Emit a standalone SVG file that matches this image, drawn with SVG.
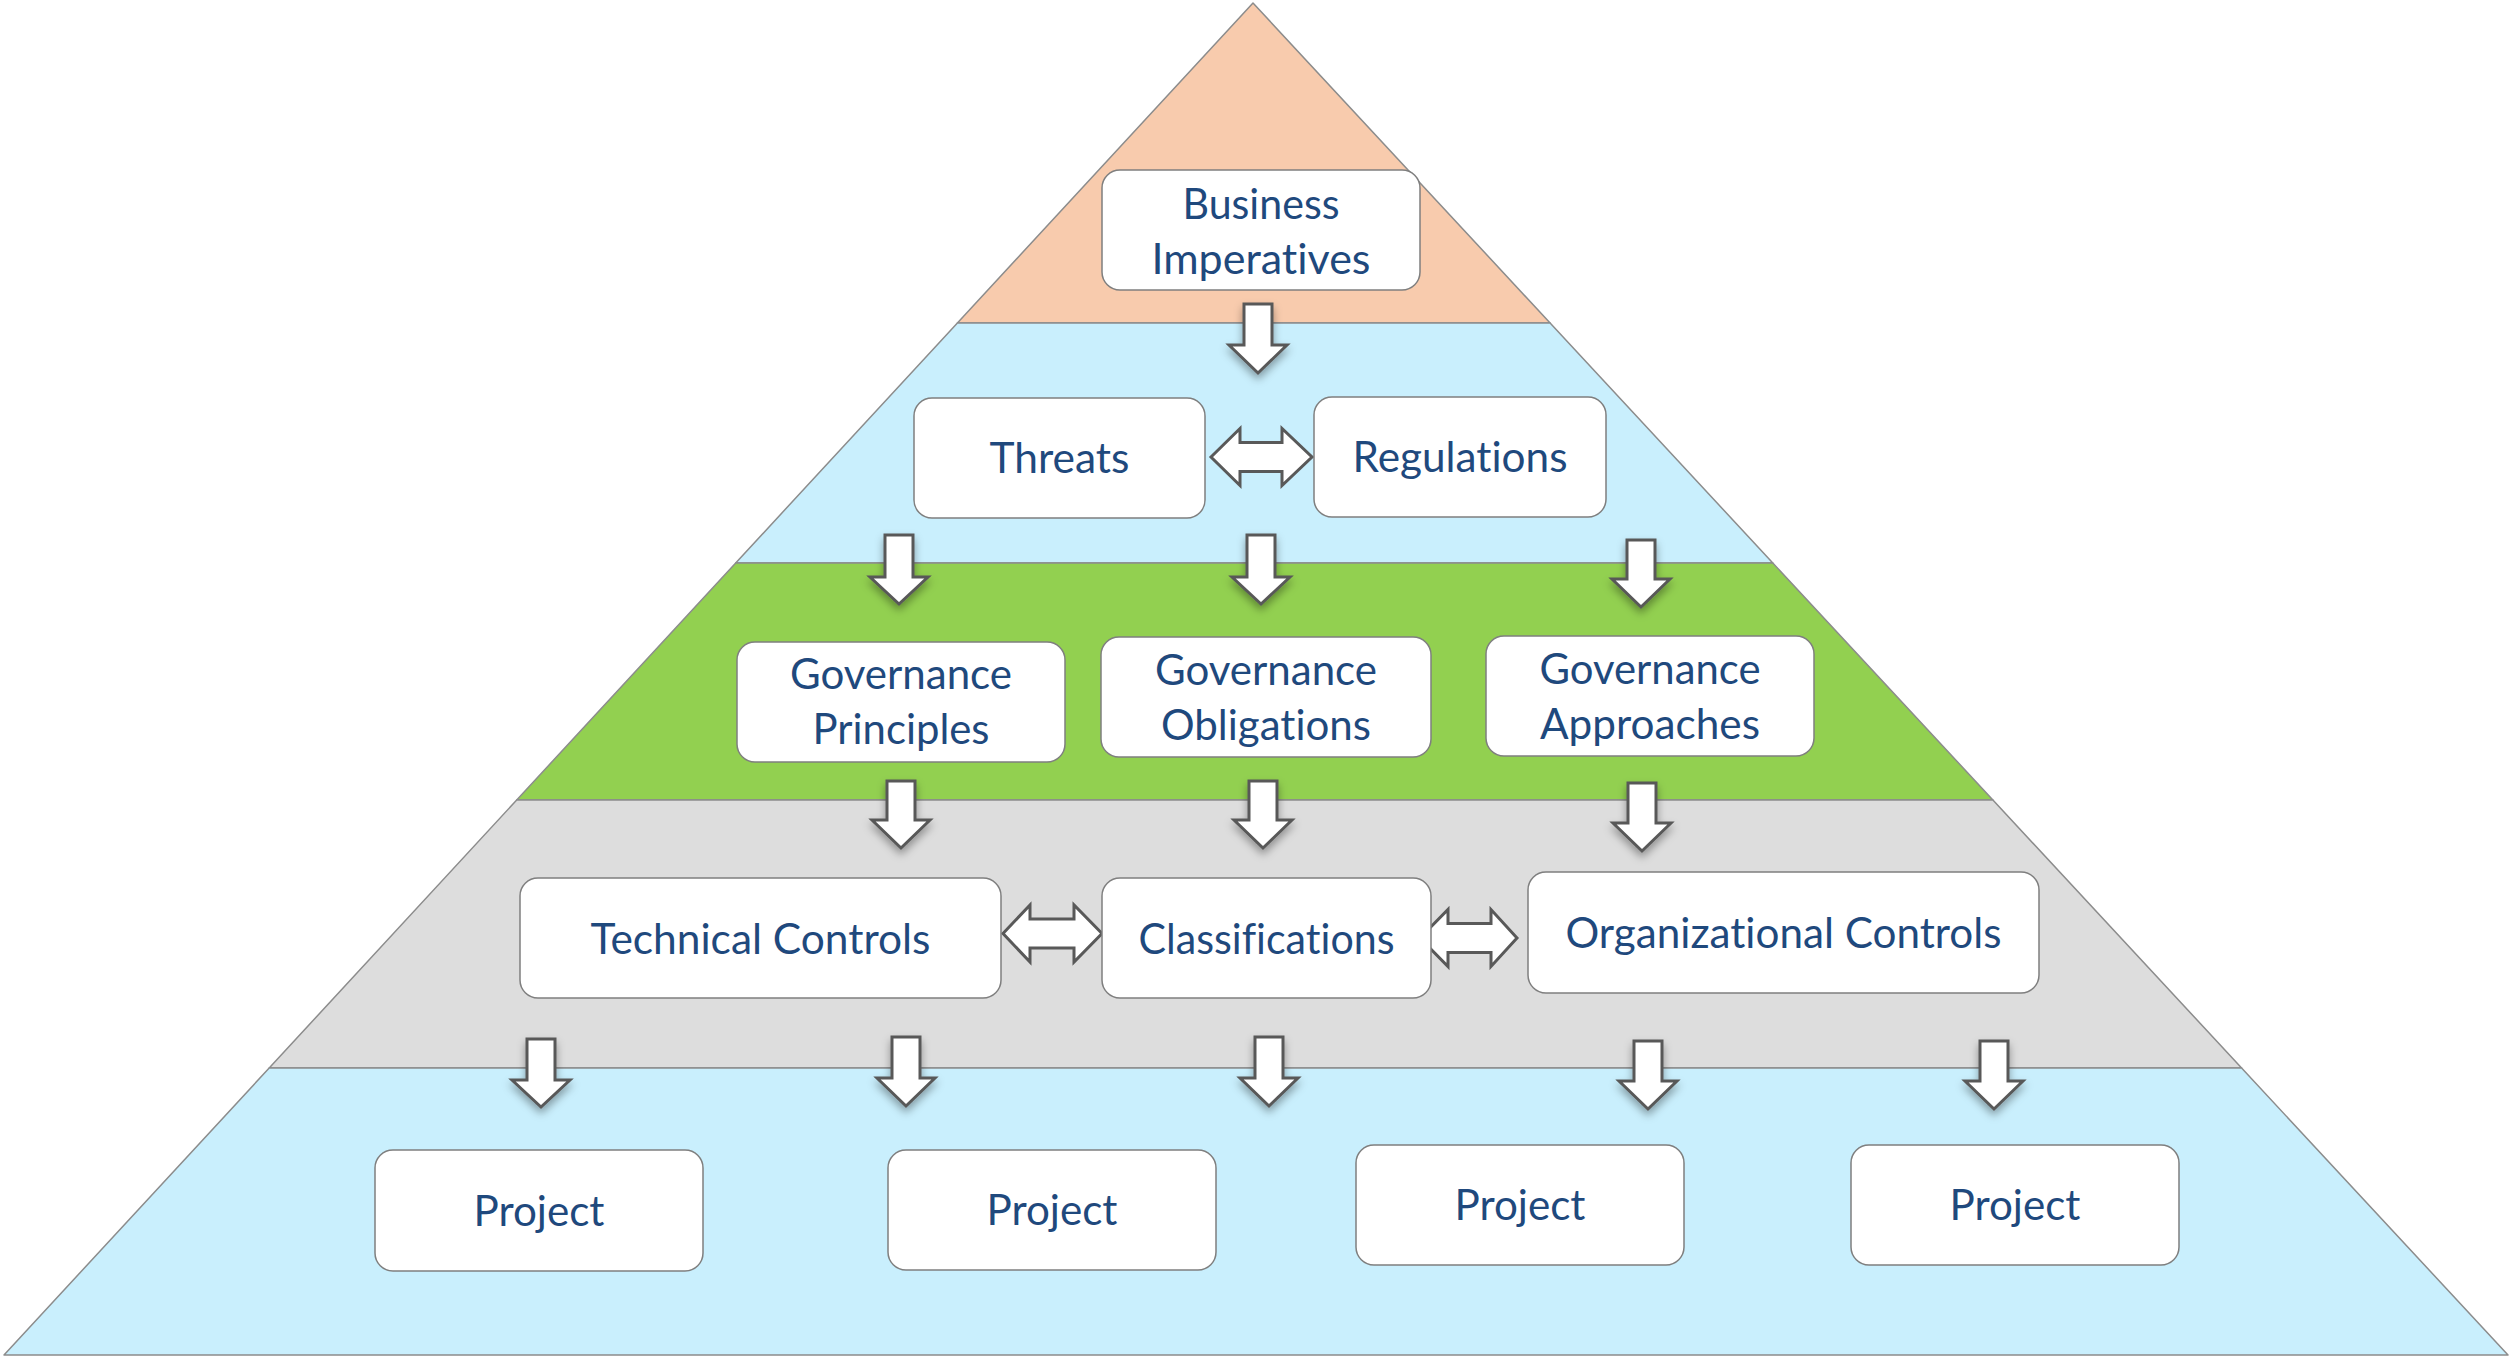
<svg xmlns="http://www.w3.org/2000/svg" width="2511" height="1356" viewBox="0 0 2511 1356">
<style>
.tier{stroke:#8c8c8c;stroke-width:1.5;stroke-linejoin:round}
.box{fill:#ffffff;stroke:#7f7f7f;stroke-width:1.5}
.lbl{font-family:Lato,"Open Sans","Liberation Sans",sans-serif;font-size:42px;fill:#1F497D;text-anchor:middle;font-variant-ligatures:none;font-feature-settings:"liga" 0}
.arr{fill:#ffffff;stroke:#595959;stroke-width:3;stroke-linejoin:miter}
.dn{filter:url(#sh)}
</style>
<defs>
<filter id="sh" x="-50%" y="-30%" width="200%" height="170%">
<feDropShadow dx="0" dy="5" stdDeviation="4" flood-color="#000" flood-opacity="0.35"/>
</filter>
</defs>
<rect width="2511" height="1356" fill="#ffffff"/>
<g id="pyramid">
<polygon class="tier" fill="#F8CBAD" points="1253,3 1550.1,323 957.4,323"/>
<polygon class="tier" fill="#C9EFFD" points="957.4,323 1550.1,323 1772.8,563 735.7,563"/>
<polygon class="tier" fill="#92D050" points="735.7,563 1772.8,563 1992.9,800 516.7,800"/>
<polygon class="tier" fill="#DDDDDD" points="516.7,800 1992.9,800 2241.6,1068 269.2,1068"/>
<polygon class="tier" fill="#C9EFFD" points="269.2,1068 2241.6,1068 2508,1355 4,1355"/>
</g>
<g id="connectors">
<path class="arr dn" d="M1244,304H1272V345H1287L1258,373L1229,345H1244Z"/>
<path class="arr dn" d="M885,535H913V577H928L899,604L870,577H885Z"/>
<path class="arr dn" d="M1247,535H1275V577H1290L1261,604L1232,577H1247Z"/>
<path class="arr dn" d="M1627,540H1655V579H1670L1641,607L1612,579H1627Z"/>
<path class="arr dn" d="M887,781H915V820H930L901,848L872,820H887Z"/>
<path class="arr dn" d="M1249,781H1277V820H1292L1263,848L1234,820H1249Z"/>
<path class="arr dn" d="M1628,783H1656V823H1671L1642,851L1613,823H1628Z"/>
<path class="arr dn" d="M527,1039H555V1080H570L541,1107L512,1080H527Z"/>
<path class="arr dn" d="M892,1037H920V1078H935L906,1106L877,1078H892Z"/>
<path class="arr dn" d="M1255,1037H1283V1078H1298L1269,1106L1240,1078H1255Z"/>
<path class="arr dn" d="M1634,1041H1662V1081H1677L1648,1109L1619,1081H1634Z"/>
<path class="arr dn" d="M1980,1041H2008V1081H2023L1994,1109L1965,1081H1980Z"/>
<path class="arr" d="M1211,457L1240,428.5V442.5H1282V428.5L1312,457L1282,485.5V471.5H1240V485.5Z"/>
<path class="arr" d="M1003,933.5L1030,905V919H1074V905L1102,933.5L1074,962V948H1030V962Z"/>
<path class="arr" d="M1420,938L1448,909.5V923.5H1491V909.5L1517,938L1491,966.5V952.5H1448V966.5Z"/>
</g>
<g id="business-imperatives">
<rect class="box" x="1102" y="170" width="318" height="120" rx="18"/>
<text class="lbl" x="1261" y="219" textLength="157" lengthAdjust="spacingAndGlyphs">Business</text>
<text class="lbl" x="1261" y="274" textLength="219" lengthAdjust="spacingAndGlyphs">Imperatives</text>
</g>
<g id="threats">
<rect class="box" x="914" y="398" width="291" height="120" rx="18"/>
<text class="lbl" x="1059.5" y="473" textLength="140" lengthAdjust="spacingAndGlyphs">Threats</text>
</g>
<g id="regulations">
<rect class="box" x="1314" y="397" width="292" height="120" rx="18"/>
<text class="lbl" x="1460" y="472" textLength="215" lengthAdjust="spacingAndGlyphs">Regulations</text>
</g>
<g id="governance-principles">
<rect class="box" x="737" y="642" width="328" height="120" rx="18"/>
<text class="lbl" x="901" y="689" textLength="222" lengthAdjust="spacingAndGlyphs">Governance</text>
<text class="lbl" x="901" y="744" textLength="177" lengthAdjust="spacingAndGlyphs">Principles</text>
</g>
<g id="governance-obligations">
<rect class="box" x="1101" y="637" width="330" height="120" rx="18"/>
<text class="lbl" x="1266" y="685" textLength="222" lengthAdjust="spacingAndGlyphs">Governance</text>
<text class="lbl" x="1266" y="740" textLength="210" lengthAdjust="spacingAndGlyphs">Obligations</text>
</g>
<g id="governance-approaches">
<rect class="box" x="1486" y="636" width="328" height="120" rx="18"/>
<text class="lbl" x="1650" y="684" textLength="221" lengthAdjust="spacingAndGlyphs">Governance</text>
<text class="lbl" x="1650" y="739" textLength="220" lengthAdjust="spacingAndGlyphs">Approaches</text>
</g>
<g id="technical-controls">
<rect class="box" x="520" y="878" width="481" height="120" rx="18"/>
<text class="lbl" x="760.5" y="954" textLength="340" lengthAdjust="spacingAndGlyphs">Technical Controls</text>
</g>
<g id="classifications">
<rect class="box" x="1102" y="878" width="329" height="120" rx="18"/>
<text class="lbl" x="1266.5" y="954" textLength="256" lengthAdjust="spacingAndGlyphs">Classifications</text>
</g>
<g id="organizational-controls">
<rect class="box" x="1528" y="872" width="511" height="121" rx="18"/>
<text class="lbl" x="1783.5" y="948" textLength="436" lengthAdjust="spacingAndGlyphs">Organizational Controls</text>
</g>
<g id="project-1">
<rect class="box" x="375" y="1150" width="328" height="121" rx="18"/>
<text class="lbl" x="539" y="1226" textLength="131" lengthAdjust="spacingAndGlyphs">Project</text>
</g>
<g id="project-2">
<rect class="box" x="888" y="1150" width="328" height="120" rx="18"/>
<text class="lbl" x="1052" y="1225" textLength="131" lengthAdjust="spacingAndGlyphs">Project</text>
</g>
<g id="project-3">
<rect class="box" x="1356" y="1145" width="328" height="120" rx="18"/>
<text class="lbl" x="1520" y="1220" textLength="131" lengthAdjust="spacingAndGlyphs">Project</text>
</g>
<g id="project-4">
<rect class="box" x="1851" y="1145" width="328" height="120" rx="18"/>
<text class="lbl" x="2015" y="1220" textLength="131" lengthAdjust="spacingAndGlyphs">Project</text>
</g>
</svg>
